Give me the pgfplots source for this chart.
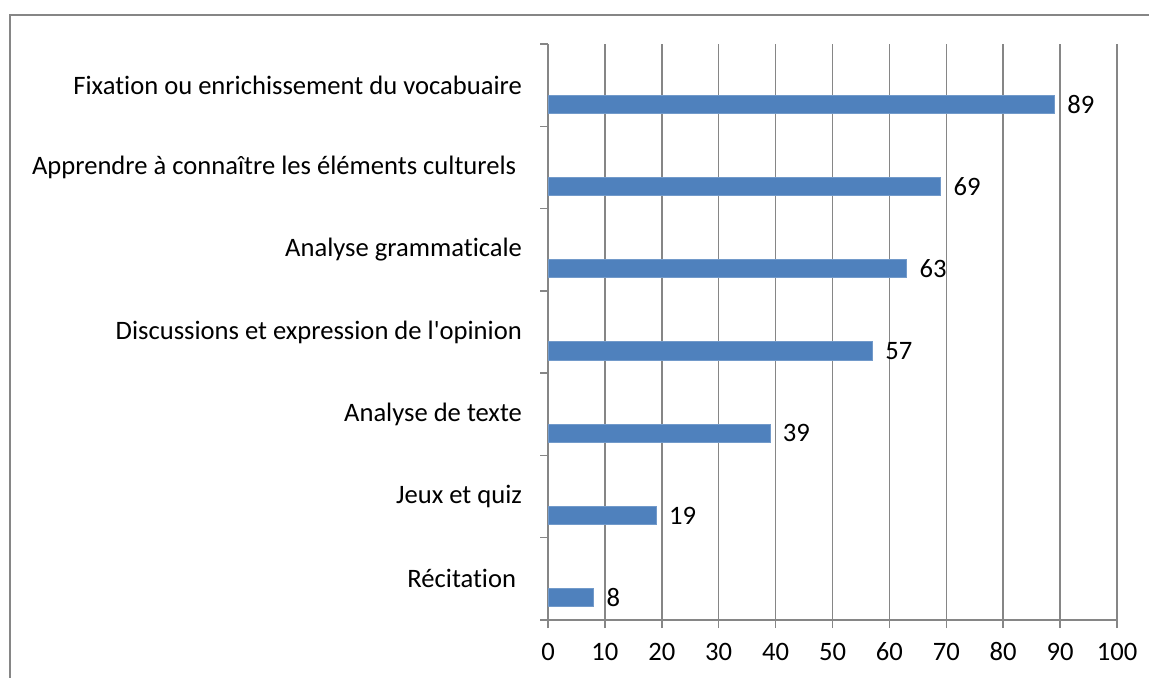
\documentclass[border=0pt]{standalone}
\usepackage{fontspec}
\setmainfont{Carlito}[Ligatures={CommonOff,TeXOff}]
\usepackage{pgfplots}
\pgfplotsset{compat=1.18}
\definecolor{barblue}{HTML}{4F81BD}
\definecolor{gridgray}{HTML}{868686}
\begin{document}
\begin{tikzpicture}
\useasboundingbox (0pt,0pt) rectangle (574.5pt,-339pt);
\draw[gridgray, line width=0.9pt] (5pt,-339pt) -- (5pt,-7.5pt) -- (574.5pt,-7.5pt);
\begin{axis}[
  at={(274pt,-310pt)}, anchor=south west,
  scale only axis, width=284.5pt, height=288pt,
  xmin=0, xmax=100, ymin=0.5, ymax=7.5,
  axis lines*=left,
  clip=false,
  xtick={0,10,...,100},
  ytick={0.5,1.5,...,7.5}, yticklabels={},
  extra y ticks={1,2,3,4,5,6,7},
  extra y tick labels={Récitation\kern0.22em,Jeux et quiz,Analyse de texte,Discussions et expression de l'opinion,Analyse grammaticale,Apprendre à connaître les éléments culturels\kern0.22em,Fixation ou enrichissement du vocabuaire},
  extra y tick style={major tick length=0pt, yticklabel style={xshift=-9.5pt}},
  tick align=outside, major tick length=4pt,
  xmajorgrids, grid style={gridgray, line width=0.75pt},
  axis line style={gridgray, line width=0.75pt},
  tick style={gridgray, line width=0.75pt},
  tick label style={font=\fontsize{13.3}{15}\selectfont, black},
  /pgf/number format/assume math mode=true,
  xticklabel style={yshift=-5pt, text height=1.6ex, text depth=0.2ex},
]
\addplot[xbar, bar width=0.22, fill=barblue, draw=barblue!80!white,
  nodes near coords,
  nodes near coords style={font=\fontsize{13.3}{15}\selectfont, black, anchor=west, xshift=3pt},
] coordinates {
  (8,0.77)
  (19,1.77)
  (39,2.77)
  (57,3.77)
  (63,4.77)
  (69,5.77)
  (89,6.77)
};
\end{axis}
\end{tikzpicture}
\end{document}
